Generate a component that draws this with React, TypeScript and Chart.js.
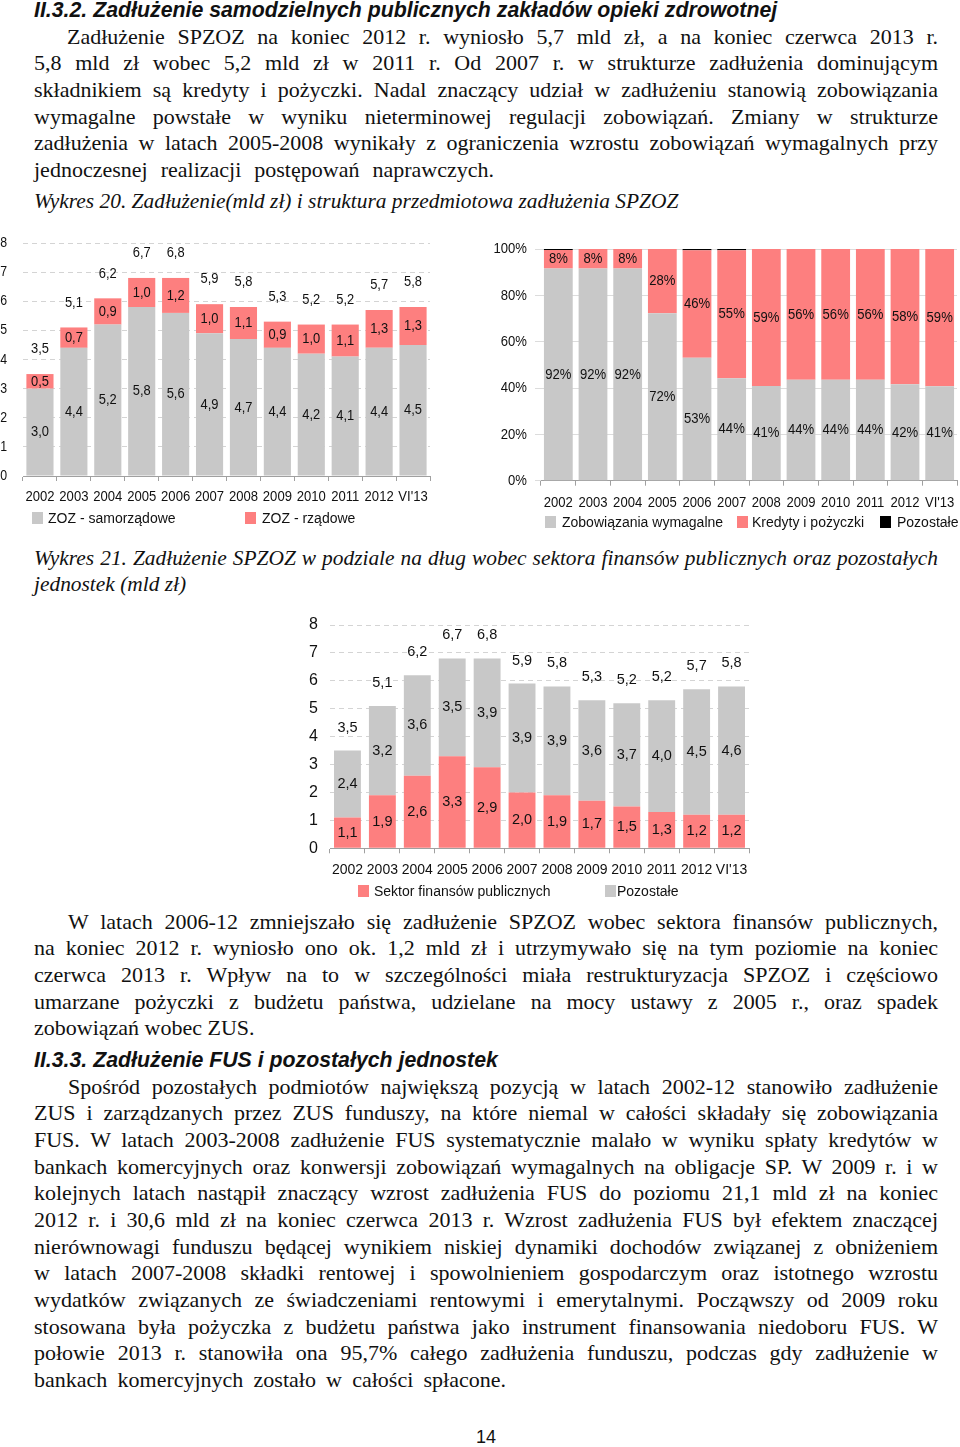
import React, { useEffect, useRef } from 'react';
import { Chart, registerables } from 'chart.js';

Chart.register(...registerables);

// ---------- DATA ----------
const years = ['2002', '2003', '2004', '2005', '2006', '2007', '2008', '2009', '2010', '2011', '2012', "VI'13"];

// Wykres 20 (left): debt in bn PLN by type of ZOZ
const zozSamorzadowe = [3.0, 4.4, 5.2, 5.8, 5.6, 4.9, 4.7, 4.4, 4.2, 4.1, 4.4, 4.5];
const zozRzadowe = [0.5, 0.7, 0.9, 1.0, 1.2, 1.0, 1.1, 0.9, 1.0, 1.1, 1.3, 1.3];
const zadluzenieTotals = ['3,5', '5,1', '6,2', '6,7', '6,8', '5,9', '5,8', '5,3', '5,2', '5,2', '5,7', '5,8'];

// Wykres 20 (right): structure, %
const zobowiazaniaPct = [91.6, 91.6, 91.6, 72.3, 53.1, 44.2, 40.9, 43.6, 43.6, 43.6, 41.6, 40.8];
const kredytyPct = [8.0, 8.4, 8.4, 27.7, 46.4, 55.3, 59.1, 56.4, 56.4, 56.4, 58.4, 59.2];
const pozostalePct = [0.4, 0, 0, 0, 0.5, 0.5, 0, 0, 0, 0, 0, 0];

// Wykres 21: debt by creditor (bn PLN)
const sektorFinansow = [1.1, 1.9, 2.6, 3.3, 2.9, 2.0, 1.9, 1.7, 1.5, 1.3, 1.2, 1.2];
const pozostaleDlug = [2.4, 3.2, 3.6, 3.5, 3.9, 3.9, 3.9, 3.6, 3.7, 4.0, 4.5, 4.6];

const yTicks8 = [0, 1, 2, 3, 4, 5, 6, 7, 8];
const yTicksPct = [0, 20, 40, 60, 80, 100];

// ---------- STYLE ----------
const GRAY = '#c8c8c8';
const RED = '#fd7f7f';
const BLACK = '#000000';
const FONT = "'Liberation Sans', Arial, sans-serif";
const SERIF = "'Liberation Serif', 'Times New Roman', serif";
const TXT = '#111';

Chart.defaults.font.family = FONT;

const fmt1 = (v: number) => v.toFixed(1).replace('.', ',');
const fmtPct = (v: number) => Math.round(v) + '%';

function drawText(ctx: CanvasRenderingContext2D, text: string, x: number, y: number, size: number, sx: number, align: CanvasTextAlign) {
  ctx.save();
  ctx.translate(x, y);
  ctx.scale(sx, 1);
  ctx.font = `${size}px ${FONT}`;
  ctx.fillStyle = TXT;
  ctx.textAlign = align;
  ctx.textBaseline = 'middle';
  ctx.fillText(text, 0, 0);
  ctx.restore();
}

type TextCfg = {
  sx: number;
  xSize: number;
  xDy: number;
  ySize: number;
  yRight: number;
  yFmt: (v: number) => string;
  dSize: number;
  datasets: number[];
  fmt: (v: number) => string;
  totals?: string[];
  totalOffset?: number;
  topDataset?: number;
};

function textPlugin(cfg: TextCfg) {
  return {
    id: 'textLayer',
    afterDraw(chart: any) {
      const ctx = chart.ctx as CanvasRenderingContext2D;
      const xs = chart.scales.x;
      const ys = chart.scales.y;
      const area = chart.chartArea;
      xs.ticks.forEach((_t: any, i: number) => {
        drawText(ctx, String(chart.data.labels[i]), xs.getPixelForTick(i), area.bottom + cfg.xDy, cfg.xSize, cfg.sx, 'center');
      });
      ys.ticks.forEach((t: any) => {
        drawText(ctx, cfg.yFmt(t.value), cfg.yRight, ys.getPixelForValue(t.value), cfg.ySize, cfg.sx, 'right');
      });
      cfg.datasets.forEach((di) => {
        const meta = chart.getDatasetMeta(di);
        meta.data.forEach((el: any, i: number) => {
          const v = chart.data.datasets[di].data[i] as number;
          const p = el.getProps(['x', 'y', 'base'], true);
          drawText(ctx, cfg.fmt(v), p.x, (p.y + p.base) / 2, cfg.dSize, cfg.sx, 'center');
        });
      });
      if (cfg.totals && cfg.topDataset !== undefined) {
        const meta = chart.getDatasetMeta(cfg.topDataset);
        meta.data.forEach((el: any, i: number) => {
          const p = el.getProps(['x', 'y'], true);
          drawText(ctx, cfg.totals![i], p.x, p.y - (cfg.totalOffset || 24), cfg.dSize, cfg.sx, 'center');
        });
      }
    },
  };
}

function ChartBox({ left, top, width, height, make }: { left: number; top: number; width: number; height: number; make: () => any }) {
  const ref = useRef<HTMLCanvasElement>(null);
  useEffect(() => {
    const chart = new Chart(ref.current as HTMLCanvasElement, make());
    return () => chart.destroy();
  }, []);
  return (
    <canvas
      ref={ref}
      width={width}
      height={height}
      style={{ position: 'absolute', left, top, width, height }}
    />
  );
}

function baseOptions(padTop: number, padRight: number, xHeight: number, yWidth: number, yMax: number, yTicks: number[], yGrid: any, yBorder: any) {
  return {
    animation: false,
    responsive: false,
    layout: { padding: { top: padTop, right: padRight, left: 0, bottom: 0 } },
    plugins: { legend: { display: false }, tooltip: { enabled: false } },
    scales: {
      x: {
        stacked: true,
        grid: { drawOnChartArea: false, drawTicks: true, tickLength: 5, color: '#a0a0a0' },
        border: { color: '#a0a0a0' },
        ticks: { display: false, autoSkip: false, maxRotation: 0 },
        afterFit: (s: any) => { s.height = xHeight; },
      },
      y: {
        stacked: true,
        min: 0,
        max: yMax,
        afterBuildTicks: (s: any) => { s.ticks = yTicks.map((v) => ({ value: v })); },
        ticks: { display: false },
        grid: yGrid,
        border: yBorder,
        afterFit: (s: any) => { s.width = yWidth; },
      },
    },
  };
}

function makeChart1() {
  return {
    type: 'bar',
    data: {
      labels: years,
      datasets: [
        { label: 'ZOZ - samorządowe', data: zozSamorzadowe, backgroundColor: GRAY, barPercentage: 0.8, categoryPercentage: 1 },
        { label: 'ZOZ - rządowe', data: zozRzadowe, backgroundColor: RED, barPercentage: 0.8, categoryPercentage: 1 },
      ],
    },
    options: baseOptions(13, 10, 34, 23, 8, yTicks8, { drawTicks: false, color: '#d4d4d4' }, { display: false, dash: [5, 4] }),
    plugins: [
      textPlugin({
        sx: 0.85, xSize: 15.4, xDy: 21, ySize: 14.5, yRight: 7, yFmt: (v) => String(v),
        dSize: 15.2, datasets: [0, 1], fmt: fmt1, totals: zadluzenieTotals, totalOffset: 25, topDataset: 1,
      }),
    ],
  };
}

function makeChart2() {
  return {
    type: 'bar',
    data: {
      labels: years,
      datasets: [
        { label: 'Zobowiązania wymagalne', data: zobowiazaniaPct, backgroundColor: GRAY, barPercentage: 0.83, categoryPercentage: 1 },
        { label: 'Kredyty i pożyczki', data: kredytyPct, backgroundColor: RED, barPercentage: 0.83, categoryPercentage: 1 },
        { label: 'Pozostałe', data: pozostalePct, backgroundColor: BLACK, barPercentage: 0.83, categoryPercentage: 1 },
      ],
    },
    options: baseOptions(19, 3, 34.3, 56, 100, yTicksPct, { drawTicks: true, tickLength: 6, color: '#dcdcdc' }, { display: false }),
    plugins: [
      textPlugin({
        sx: 0.85, xSize: 15.4, xDy: 22.3, ySize: 15.4, yRight: 42, yFmt: (v) => v + '%',
        dSize: 15.4, datasets: [0, 1], fmt: fmtPct,
      }),
    ],
  };
}

function makeChart3() {
  return {
    type: 'bar',
    data: {
      labels: years,
      datasets: [
        { label: 'Sektor finansów publicznych', data: sektorFinansow, backgroundColor: RED, barPercentage: 0.77, categoryPercentage: 1 },
        { label: 'Pozostałe', data: pozostaleDlug, backgroundColor: GRAY, barPercentage: 0.77, categoryPercentage: 1 },
      ],
    },
    options: baseOptions(20, 11, 36.7, 30, 8, yTicks8, { drawTicks: false, color: '#d4d4d4' }, { display: false, dash: [5, 4] }),
    plugins: [
      textPlugin({
        sx: 1, xSize: 14, xDy: 22, ySize: 16, yRight: 18, yFmt: (v) => String(v),
        dSize: 14.5, datasets: [0, 1], fmt: fmt1, totals: zadluzenieTotals, totalOffset: 23, topDataset: 1,
      }),
    ],
  };
}

// ---------- TEXT ----------
const para1 = [
  'Zadłużenie SPZOZ na koniec 2012 r. wyniosło 5,7 mld zł, a na koniec czerwca 2013 r.',
  '5,8 mld zł wobec 5,2 mld zł w 2011 r. Od 2007 r. w strukturze zadłużenia dominującym',
  'składnikiem są kredyty i pożyczki. Nadal znaczący udział w zadłużeniu stanowią zobowiązania',
  'wymagalne powstałe w wyniku nieterminowej regulacji zobowiązań. Zmiany w strukturze',
  'zadłużenia w latach 2005-2008 wynikały z ograniczenia wzrostu zobowiązań wymagalnych przy',
  'jednoczesnej realizacji postępowań naprawczych.',
];
const para2 = [
  'W latach 2006-12 zmniejszało się zadłużenie SPZOZ wobec sektora finansów publicznych,',
  'na koniec 2012 r. wyniosło ono ok. 1,2 mld zł i utrzymywało się na tym poziomie na koniec',
  'czerwca 2013 r. Wpływ na to w szczególności miała restrukturyzacja SPZOZ i częściowo',
  'umarzane pożyczki z budżetu państwa, udzielane na mocy ustawy z 2005 r., oraz spadek',
  'zobowiązań wobec ZUS.',
];
const para3 = [
  'Spośród pozostałych podmiotów największą pozycją w latach 2002-12 stanowiło zadłużenie',
  'ZUS i zarządzanych przez ZUS funduszy, na które niemal w całości składały się zobowiązania',
  'FUS. W latach 2003-2008 zadłużenie FUS systematycznie malało w wyniku spłaty kredytów w',
  'bankach komercyjnych oraz konwersji zobowiązań wymagalnych na obligacje SP. W 2009 r. i w',
  'kolejnych latach nastąpił znaczący wzrost zadłużenia FUS do poziomu 21,1 mld zł na koniec',
  '2012 r. i 30,6 mld zł na koniec czerwca 2013 r. Wzrost zadłużenia FUS był efektem znaczącej',
  'nierównowagi funduszu będącej wynikiem niskiej dynamiki dochodów związanej z obniżeniem',
  'w latach 2007-2008 składki rentowej i spowolnieniem gospodarczym oraz istotnego wzrostu',
  'wydatków związanych ze świadczeniami rentowymi i emerytalnymi. Począwszy od 2009 roku',
  'stosowana była pożyczka z budżetu państwa jako instrument finansowania niedoboru FUS. W',
  'połowie 2013 r. stanowiła ona 95,7% całego zadłużenia funduszu, podczas gdy zadłużenie w',
  'bankach komercyjnych zostało w całości spłacone.',
];

const LH = 26.65;

function Para({ lines, firstCenter, indent, italic, size = 22, lastWidth }: { lines: string[]; firstCenter: number; indent: number; italic?: boolean; size?: number; lastWidth?: number }) {
  return (
    <>
      {lines.map((t, i) => {
        const last = i === lines.length - 1;
        const justify = !last || lastWidth !== undefined;
        const w = last && lastWidth !== undefined ? lastWidth : 904 - (i === 0 ? indent : 0);
        return (
          <div
            key={i}
            style={{
              position: 'absolute',
              left: 34 + (i === 0 ? indent : 0),
              width: w,
              top: firstCenter + i * LH - LH / 2,
              height: LH,
              lineHeight: LH + 'px',
              fontFamily: SERIF,
              fontSize: size,
              fontStyle: italic ? 'italic' : 'normal',
              color: TXT,
              textAlign: justify ? 'justify' : 'left',
              textAlignLast: justify ? 'justify' : 'left',
              whiteSpace: 'nowrap',
            } as any}
          >
            {t}
          </div>
        );
      })}
    </>
  );
}

function Heading({ text, center }: { text: string; center: number }) {
  return (
    <div
      style={{
        position: 'absolute',
        left: 34,
        top: center - 13,
        lineHeight: '26px',
        fontFamily: FONT,
        fontWeight: 'bold',
        fontStyle: 'italic',
        fontSize: 21.3,
        color: TXT,
        whiteSpace: 'nowrap',
      }}
    >
      {text}
    </div>
  );
}

function LegendItem({ x, y, color, text, textX }: { x: number; y: number; color: string; text: string; textX: number }) {
  return (
    <>
      <div style={{ position: 'absolute', left: x, top: y - 6, width: 11, height: 12, background: color }} />
      <div
        style={{
          position: 'absolute',
          left: textX,
          top: y - 9,
          lineHeight: '18px',
          fontFamily: FONT,
          fontSize: 14,
          color: TXT,
          whiteSpace: 'nowrap',
        }}
      >
        {text}
      </div>
    </>
  );
}

export default function App() {
  return (
    <div style={{ position: 'absolute', left: 0, top: 0, width: 960, height: 1447, background: '#fff', overflow: 'hidden' }}>
      <Heading text="II.3.2. Zadłużenie samodzielnych publicznych zakładów opieki zdrowotnej" center={10} />
      <Para lines={para1} firstCenter={37} indent={33} lastWidth={460} />
      <Para lines={['Wykres 20. Zadłużenie(mld zł) i struktura przedmiotowa zadłużenia SPZOZ']} firstCenter={201} indent={0} italic size={21.4} />

      <ChartBox left={0} top={230} width={440} height={280} make={makeChart1} />
      <LegendItem x={32} y={518} color={GRAY} text="ZOZ - samorządowe" textX={48} />
      <LegendItem x={245} y={518} color={RED} text="ZOZ - rządowe" textX={262} />

      <ChartBox left={485} top={230} width={475} height={285} make={makeChart2} />
      <LegendItem x={545} y={522} color={GRAY} text="Zobowiązania wymagalne" textX={562} />
      <LegendItem x={737} y={522} color={RED} text="Kredyty i pożyczki" textX={752} />
      <LegendItem x={880} y={522} color={BLACK} text="Pozostałe" textX={897} />

      <Para
        lines={[
          'Wykres 21. Zadłużenie SPZOZ w podziale na dług wobec sektora finansów publicznych oraz pozostałych',
          'jednostek (mld zł)',
        ]}
        firstCenter={558}
        indent={0}
        italic
        size={21.4}
      />

      <ChartBox left={300} top={605} width={460} height={280} make={makeChart3} />
      <LegendItem x={358} y={891} color={RED} text="Sektor finansów publicznych" textX={374} />
      <LegendItem x={605} y={891} color={GRAY} text="Pozostałe" textX={617} />

      <Para lines={para2} firstCenter={922} indent={34} />
      <Heading text="II.3.3. Zadłużenie FUS i pozostałych jednostek" center={1060} />
      <Para lines={para3} firstCenter={1087} indent={34} lastWidth={472} />

      <div
        style={{
          position: 'absolute',
          left: 0,
          width: 972,
          top: 1427,
          lineHeight: '20px',
          textAlign: 'center',
          fontFamily: FONT,
          fontSize: 18,
          color: TXT,
        }}
      >
        14
      </div>
    </div>
  );
}
